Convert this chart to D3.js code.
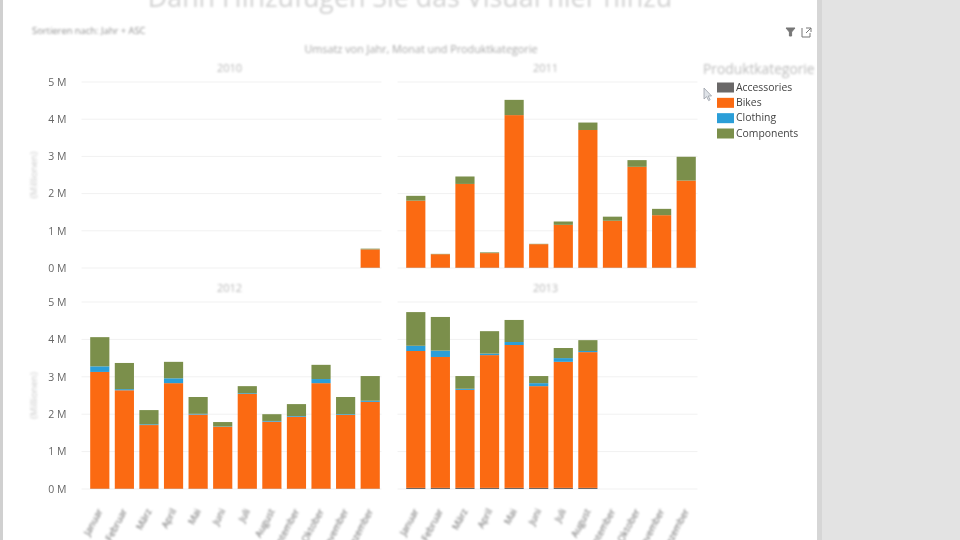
<!DOCTYPE html>
<html lang="de">
<head>
<meta charset="utf-8">
<script src="https://cdn.jsdelivr.net/npm/d3@7"></script>
<style>
html,body{margin:0;padding:0;background:#fff;overflow:hidden}
svg{display:block}
text{font-family:"Open Sans","Noto Sans",sans-serif}
.soft{filter:blur(.75px)}
.softer{filter:blur(.85px)}
</style>
</head>
<body>
<svg id="c" width="960" height="540"></svg>
<script>
const months = ["Januar","Februar","März","April","Mai","Juni","Juli","August","September","Oktober","November","Dezember"];
const categories = ["Accessories","Bikes","Clothing","Components"];
const yTicks = [0,1,2,3,4,5];
const years = ["2010","2011","2012","2013"];

// Values in millions (null = no data for that month)
const accessories2010 = [null,null,null,null,null,null,null,null,null,null,null,0.01];
const bikes2010       = [null,null,null,null,null,null,null,null,null,null,null,0.49];
const clothing2010    = [null,null,null,null,null,null,null,null,null,null,null,0];
const components2010  = [null,null,null,null,null,null,null,null,null,null,null,0.02];

const accessories2011 = [0.01,0.01,0.01,0.01,0.01,0.01,0.01,0.01,0.01,0.01,0.01,0.01];
const bikes2011       = [1.80,0.36,2.25,0.39,4.10,0.63,1.15,3.70,1.26,2.71,1.41,2.34];
const clothing2011    = [0,0,0,0,0,0,0,0,0,0,0,0];
const components2011  = [0.13,0.01,0.20,0.02,0.41,0.01,0.09,0.20,0.11,0.18,0.17,0.64];

const accessories2012 = [0.01,0.01,0.01,0.01,0.01,0.01,0.01,0.01,0.01,0.01,0.01,0.01];
const bikes2012       = [3.12,2.63,1.70,2.82,1.98,1.65,2.53,1.79,1.92,2.82,1.97,2.32];
const clothing2012    = [0.15,0.03,0.02,0.13,0.02,0.01,0.02,0.02,0.02,0.11,0.02,0.03];
const components2012  = [0.78,0.70,0.38,0.44,0.45,0.12,0.19,0.18,0.32,0.38,0.46,0.66];

const accessories2013 = [0.03,0.03,0.03,0.03,0.03,0.03,0.03,0.03,null,null,null,null];
const bikes2013       = [3.66,3.50,2.62,3.55,3.82,2.72,3.37,3.63,null,null,null,null];
const clothing2013    = [0.14,0.17,0.03,0.04,0.08,0.08,0.10,0.03,null,null,null,null];
const components2013  = [0.90,0.90,0.34,0.60,0.59,0.19,0.27,0.29,null,null,null,null];

const seriesByYear = {
  "2010":[accessories2010,bikes2010,clothing2010,components2010],
  "2011":[accessories2011,bikes2011,clothing2011,components2011],
  "2012":[accessories2012,bikes2012,clothing2012,components2012],
  "2013":[accessories2013,bikes2013,clothing2013,components2013]
};

const titleText = "Dann Hinzufügen Sie das Visual hier hinzu";
const subtitleText = "Umsatz von Jahr, Monat und Produktkategorie";
const sortText = "Sortieren nach: Jahr + ASC";
const legendTitle = "Produktkategorie";
const yAxisTitle = "(Millionen)";

const colour = d3.scaleOrdinal(categories, ["#6a6868","#fb6a12","#2b9ed8","#7b8f4b"]);

const svg = d3.select("#c");
// page surround
svg.append("rect").attr("x",817).attr("y",0).attr("width",143).attr("height",540).attr("fill","#e3e3e3");
svg.append("rect").attr("x",817).attr("y",0).attr("width",5).attr("height",540).attr("fill","#d6d6d6");
svg.append("rect").attr("x",0).attr("y",0).attr("width",3).attr("height",540).attr("fill","#d0d0d0");

const soft = svg.append("g").attr("class","soft");
const softer = svg.append("g").attr("class","softer");

softer.append("text").attr("x",410).attr("y",7).attr("text-anchor","middle")
  .attr("font-size",26.8).attr("fill","#d2d2d2").text(titleText);
softer.append("text").attr("x",32).attr("y",34).attr("font-size",9.4).attr("fill","#8f8f8f").text(sortText);
softer.append("text").attr("x",421).attr("y",52.5).attr("text-anchor","middle")
  .attr("font-size",10.8).attr("fill","#a8a8a8").text(subtitleText);
softer.append("text").attr("x",703).attr("y",73.5).attr("font-size",13.8).attr("fill","#bcbcbc").text(legendTitle);

const panels = [
  {year:"2010",x0:87.5,top:82,bottom:268,axis:true,months:false},
  {year:"2011",x0:403.5,top:82,bottom:268,axis:false,months:false},
  {year:"2012",x0:87.5,top:302,bottom:489,axis:true,months:true},
  {year:"2013",x0:403.5,top:302,bottom:489,axis:false,months:true}
];

const stack = d3.stack().keys(d3.range(categories.length)).value((row,k)=>row[k] ?? 0);

panels.forEach(p=>{
  const x = d3.scaleBand(months,[p.x0,p.x0+295]).paddingInner(0.22).paddingOuter(0.11);
  const y = d3.scaleLinear([0,5],[p.bottom,p.top]);
  const g = soft.append("g");

  softer.append("text").attr("x",p.x0+142).attr("y",p.top-10).attr("text-anchor","middle")
    .attr("font-size",11).attr("fill","#b8b8b8").text(p.year);

  // grid
  g.append("g").selectAll("line").data(yTicks).join("line")
    .attr("x1",p.x0-6).attr("x2",p.x0+294)
    .attr("y1",d=>y(d)).attr("y2",d=>y(d))
    .attr("stroke","#f1f1f1").attr("stroke-width",1);

  if(p.axis){
    const ax = g.append("g").attr("transform",`translate(${p.x0-20},0)`)
      .call(d3.axisLeft(y).tickValues(yTicks).tickSize(0).tickPadding(1).tickFormat(d=>d+" M"));
    ax.select(".domain").remove();
    ax.selectAll("text").attr("font-size",10.5).attr("fill","#666")
      .style("font-family",'"Open Sans","Noto Sans",sans-serif');
    softer.append("text")
      .attr("transform",`translate(37,${(p.top+p.bottom)/2}) rotate(-90)`)
      .attr("text-anchor","middle").attr("font-size",9.5).attr("fill","#c8c8c8").text(yAxisTitle);
  }

  // stacked bars
  const series = seriesByYear[p.year];
  const rows = months.map((m,i)=>{ const r = series.map(s=>s[i]); r.month = m; return r; });
  const layers = stack(rows);
  g.append("g").selectAll("g").data(layers).join("g")
    .attr("fill",d=>colour(categories[d.key]))
    .selectAll("rect").data(d=>d.filter(v=>v.data[d.key]!=null && v.data[d.key]>0)).join("rect")
    .attr("x",d=>x(d.data.month))
    .attr("width",x.bandwidth())
    .attr("y",d=>y(d[1]))
    .attr("height",d=>y(d[0])-y(d[1]));

  if(p.months){
    softer.append("g").selectAll("text").data(months).join("text")
      .attr("text-anchor","end")
      .attr("transform",m=>`translate(${x(m)+x.bandwidth()/2+3},${p.bottom+22}) rotate(-62)`)
      .attr("font-size",9.5).attr("fill","#666").text(m=>m);
  }
});

// legend
const lg = d3.scalePoint(categories,[87,133]);
const legend = soft.append("g");
legend.selectAll("rect").data(categories).join("rect")
  .attr("x",717).attr("y",d=>lg(d)-4.5).attr("width",17).attr("height",10).attr("fill",d=>colour(d));
legend.selectAll("text").data(categories).join("text")
  .attr("x",736).attr("y",d=>lg(d)+3.5).attr("font-size",10.4).attr("fill","#444").text(d=>d);

// toolbar icons and pointer
const icons = soft.append("g").attr("fill","none").attr("stroke","#777");
icons.append("path").attr("d","M786 28h9l-3.4 4v4h-2.2v-4z").attr("fill","#777");
icons.append("path").attr("d","M802 28v9h8v-4M806 28h5v4M811 28l-5 5").attr("stroke-width",1);
soft.append("path").attr("d","M704 88v11l2.6-2.4 2 4 1.6-.8-2-3.8h3.4z")
  .attr("fill","#dfe3e8").attr("stroke","#9aa0a8").attr("stroke-width",.8);
</script>
</body>
</html>
